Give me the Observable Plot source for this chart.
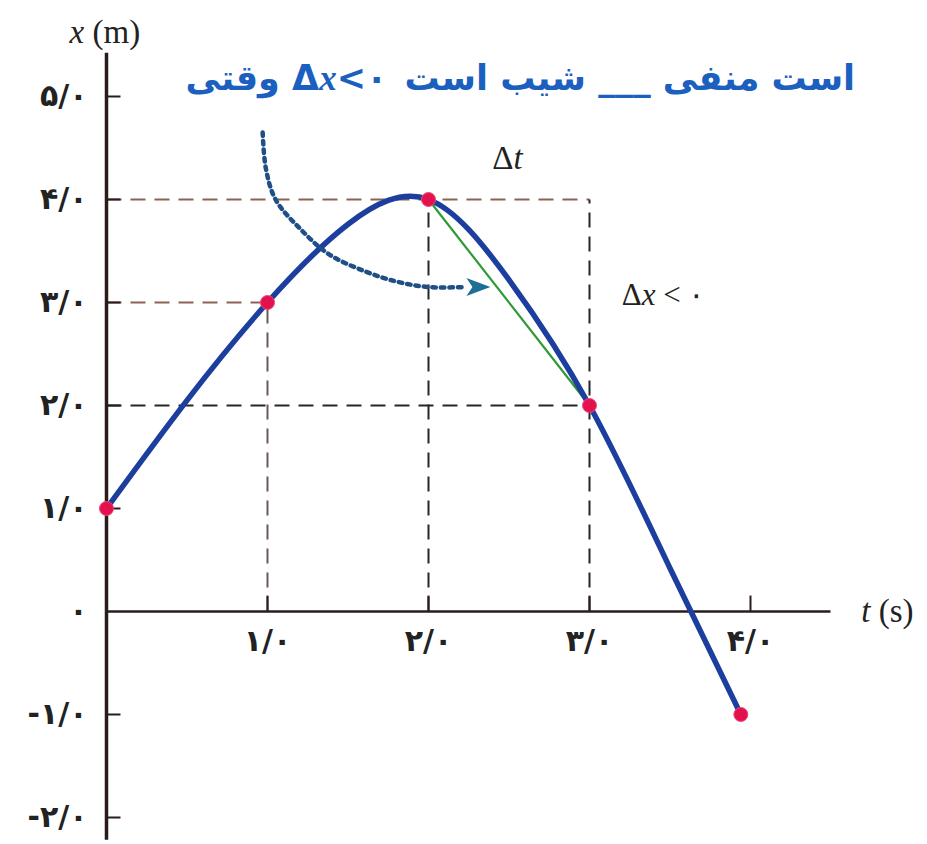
<!DOCTYPE html>
<html>
<head>
<meta charset="utf-8">
<script src="https://cdn.jsdelivr.net/npm/d3@7"></script>
<script src="https://cdn.jsdelivr.net/npm/@observablehq/plot@0.6"></script>
<style>
  body { margin: 0; background: #fff; }
  svg { display: block; }
</style>
</head>
<body>
<div id="chart"></div>
<script>
// samples along the position–time curve x(t)
const curveT = [0, 0.5, 1, 1.5, 2, 2.5, 3, 3.5, 3.94];
const curveX = [1, 2.05, 3, 3.76, 4, 3.22, 2, 0.42, -1];

// marked instants on the curve
const pointT = [0, 1, 2, 3, 3.94];
const pointX = [1, 3, 4, 2, -1];

// dotted pointer toward the secant
const pointerT = [0.97, 0.99, 1.05, 1.2, 1.38, 1.61, 1.81, 2.0, 2.22];
const pointerX = [4.65, 4.3, 4.0, 3.72, 3.47, 3.30, 3.20, 3.15, 3.15];
const pointerTip = {t: 2.31, pos: 3.15};

// axis ticks and their labels
const yTicks = [5, 4, 3, 2, 1, 0, -1, -2];
const yTickLabels = ["۵/۰", "۴/۰", "۳/۰", "۲/۰", "۱/۰", "۰", "-۱/۰", "-۲/۰"];
const xTicks = [1, 2, 3, 4];
const xTickLabels = ["۱/۰", "۲/۰", "۳/۰", "۴/۰"];

// words of the heading, laid out left to right
const titleWords = ["وقتی", "Δx<۰", "است", "شیب", "___", "منفی", "است"];

const persian = "DejaVu Sans, sans-serif";
const serif = "Liberation Serif, DejaVu Serif, serif";
const titleSize = 35;

// measure each heading word so they can be placed side by side
const ctx2d = document.createElement("canvas").getContext("2d");
ctx2d.font = `bold ${titleSize}px DejaVu Sans`;
const gap = ctx2d.measureText(" ").width;
const widths = titleWords.map(w => ctx2d.measureText(w).width);
const totalWidth = d3.sum(widths) + gap * (titleWords.length - 1);
let cursor = -totalWidth / 2;
const titleItems = titleWords.map((w, i) => {
  const item = {w, off: cursor};
  cursor += widths[i] + gap;
  return item;
});

const curve = curveT.map((t, i) => ({t, pos: curveX[i]}));
const points = pointT.map((t, i) => ({t, pos: pointX[i]}));
const pointer = pointerT.map((t, i) => ({t, pos: pointerX[i]}));

// dashed guide lines from the marked points to the axes
const brown = "#8b6253", dark = "#262626";
const guides = [
  {x1: 0, x2: pointT[3], y1: pointX[2], y2: pointX[2], c: brown},
  {x1: 0, x2: pointT[1], y1: pointX[1], y2: pointX[1], c: brown},
  {x1: 0, x2: pointT[3], y1: pointX[3], y2: pointX[3], c: dark},
  {x1: pointT[1], x2: pointT[1], y1: 0, y2: pointX[1], c: "#6a5a57"},
  {x1: pointT[2], x2: pointT[2], y1: 0, y2: pointX[2], c: dark},
  {x1: pointT[3], x2: pointT[3], y1: 0, y2: pointX[2], c: dark}
];

// filled arrowhead pointing right
const headSymbol = {
  draw(ctx, size) {
    const r = Math.sqrt(size) * 0.75;
    ctx.moveTo(r, 0);
    ctx.lineTo(-r, -r * 0.75);
    ctx.lineTo(-r * 0.5, 0);
    ctx.lineTo(-r, r * 0.75);
    ctx.closePath();
  }
};

const axisColor = "#2a1c1c";

const chart = Plot.plot({
  width: 927,
  height: 844,
  margin: 0,
  style: {background: "#fff", fontFamily: persian},
  x: {domain: [0, 4.5], range: [106, 830.5], axis: null},
  y: {domain: [-2, 5], range: [817, 96], axis: null},
  color: {type: "identity"},
  marks: [
    Plot.link(guides, {x1: "x1", x2: "x2", y1: "y1", y2: "y2", stroke: "c", strokeWidth: 2, strokeDasharray: "15,9"}),
    // axes
    Plot.ruleY([0], {x1: 0, x2: 4.5, stroke: axisColor, strokeWidth: 2.5}),
    Plot.ruleX([0], {y1: -2.22, y2: 5.42, stroke: axisColor, strokeWidth: 3.5}),
    Plot.ruleY(yTicks.filter(d => d !== 0), {x1: 0, x2: 0.09, y: d => d, stroke: axisColor, strokeWidth: 2}),
    Plot.ruleX(xTicks, {x: d => d, y1: 0, y2: 0.15, stroke: axisColor, strokeWidth: 2}),
    // tick labels
    Plot.text(yTicks, {x: 0, y: d => d, text: (d, i) => yTickLabels[i], dx: -19, textAnchor: "end",
      fontSize: 30, fontWeight: "bold", fill: "#222"}),
    Plot.text(xTicks, {x: d => d, y: 0, text: (d, i) => xTickLabels[i], dy: 30,
      fontSize: 30, fontWeight: "bold", fill: "#222"}),
    // axis titles
    Plot.text([{t: -0.01, pos: 5.62, s: "x (m)"}], {x: "t", y: "pos", text: "s", fontSize: 33, fontFamily: serif, fill: "#222"}),
    Plot.text([{t: 4.85, pos: 0.0, s: "t (s)"}], {x: "t", y: "pos", text: "s", fontSize: 33, fontFamily: serif, fill: "#222"}),
    // secant between t = 2 and t = 3
    Plot.link([{a: 2, b: 3}], {x1: d => pointT[d.a], y1: d => pointX[d.a], x2: d => pointT[d.b], y2: d => pointX[d.b],
      stroke: "#2f9a35", strokeWidth: 2.2}),
    // position curve
    Plot.line(curve, {x: "t", y: "pos", curve: "natural", stroke: "#1c3e9e", strokeWidth: 5.5}),
    // dotted pointer
    Plot.line(pointer, {x: "t", y: "pos", curve: "catmull-rom", stroke: "#1f4f86", strokeWidth: 4.5, strokeDasharray: "3.5,5"}),
    Plot.dot([pointerTip], {x: "t", y: "pos", symbol: headSymbol, r: 9, fill: "#1d6f97", stroke: "none"}),
    // marked points
    Plot.dot(points, {x: "t", y: "pos", r: 7, fill: "#e2124e", stroke: "#f04a78", strokeWidth: 1}),
    // annotations
    Plot.text([{t: 2.49, pos: 4.4, s: "Δt"}], {x: "t", y: "pos", text: "s", fontSize: 33, fontFamily: serif, fill: "#222"}),
    Plot.text([{t: 3.46, pos: 3.07, s: "Δx < ۰"}], {x: "t", y: "pos", text: "s", fontSize: 31, fontFamily: serif, fill: "#222"}),
    // heading, one word per text element
    ...titleItems.map(d => Plot.text([d], {x: () => 2.57, y: () => 5.17, text: "w", dx: d.off, textAnchor: "start",
      fontSize: titleSize, fontWeight: "bold", fill: "#1b5fbf"}))
  ]
});

// set the Latin variable letters in italic serif
d3.select(chart).selectAll("text").each(function () {
  const el = this;
  const s = el.textContent;
  if (!/[xt]/.test(s)) return;
  while (el.firstChild) el.removeChild(el.firstChild);
  for (const part of s.split(/([xt])/)) {
    if (!part) continue;
    const span = document.createElementNS("http://www.w3.org/2000/svg", "tspan");
    span.textContent = part;
    if (part === "x" || part === "t") {
      span.setAttribute("font-style", "italic");
      span.setAttribute("font-family", serif);
    }
    el.appendChild(span);
  }
});

document.getElementById("chart").appendChild(chart);
</script>
</body>
</html>
